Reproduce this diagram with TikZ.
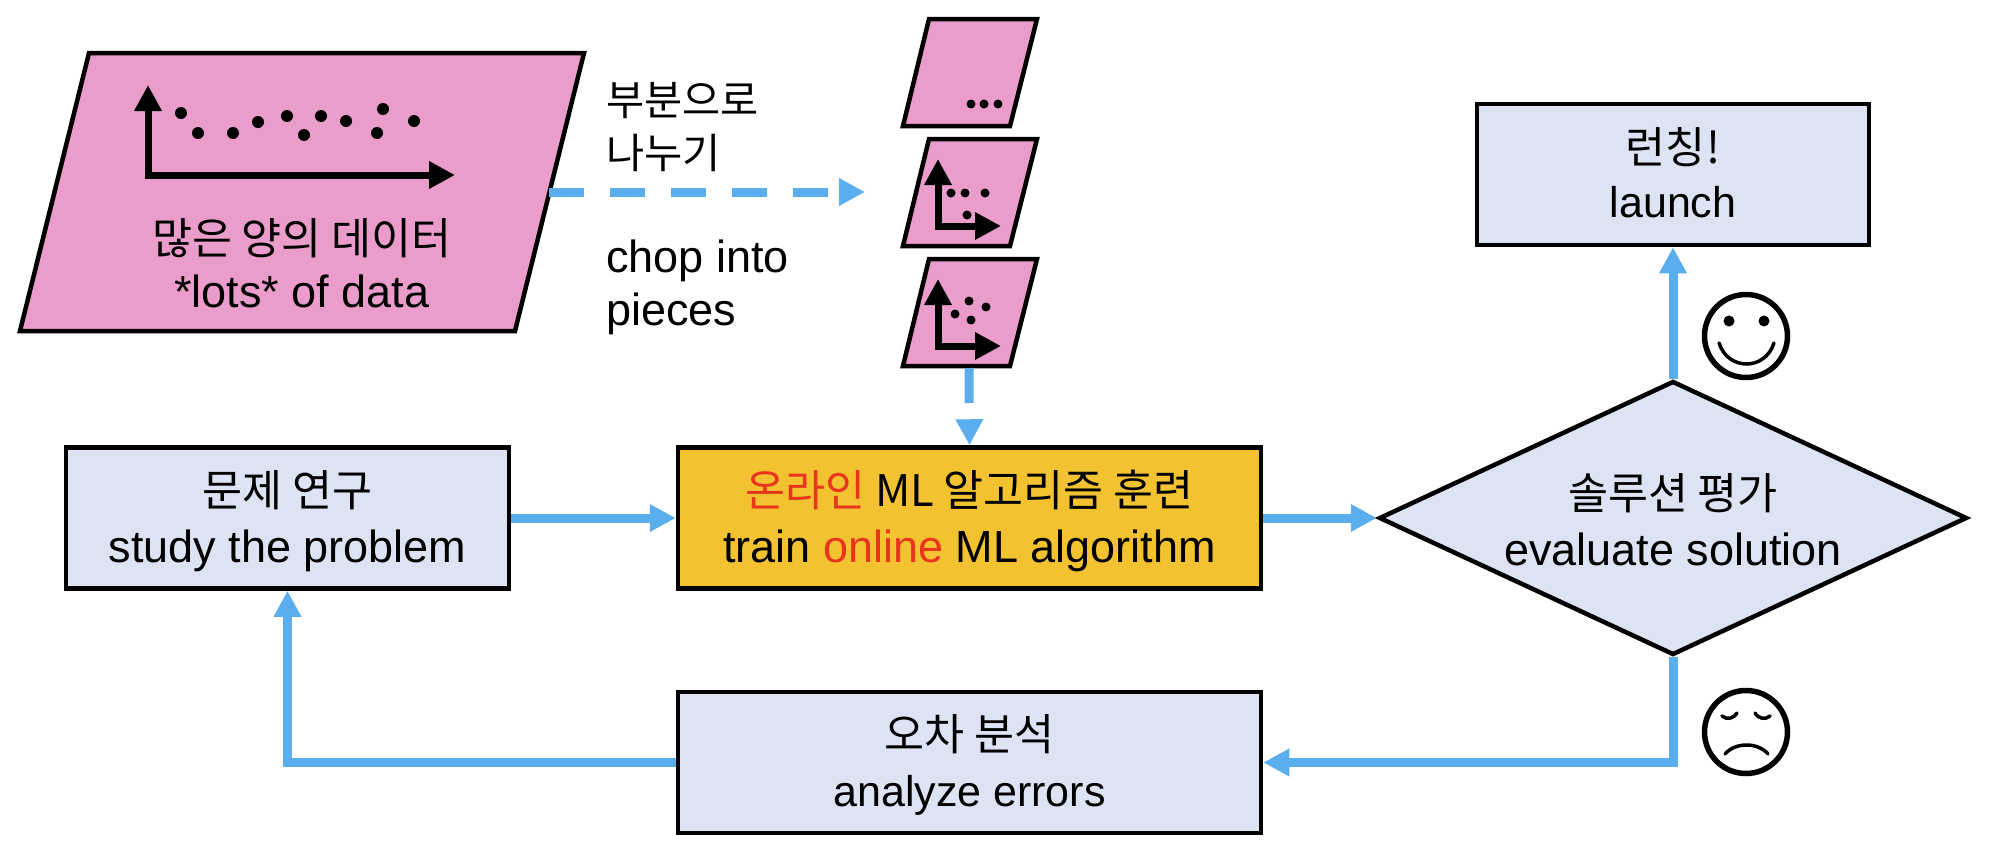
\documentclass[tikz,border=0pt]{standalone}
\usepackage{fontspec}
\setmainfont{Liberation Sans}
\newfontfamily\krfont{Noto Sans CJK KR}
\newcommand{\kr}{\krfont\fontsize{43.5}{56}\selectfont}
\newcommand{\krs}{\krfont\fontsize{41.5}{53}\selectfont}
\usetikzlibrary{arrows.meta,shapes.geometric}
\definecolor{pinkfill}{HTML}{EA9DCB}
\definecolor{bluefill}{HTML}{DDE3F2}
\definecolor{goldfill}{HTML}{F2C230}
\definecolor{flowblue}{HTML}{5BAEEE}
\definecolor{redtext}{HTML}{E8351C}
\tikzset{
  lbl/.style={font=\fontsize{45}{56}\selectfont,align=center,text=black,inner sep=0pt},
  lblleft/.style={font=\fontsize{45}{53}\selectfont,align=left,text=black,inner sep=0pt,anchor=west},
  boxnode/.style={draw=none,lbl},
  boxframe/.style={draw=black,line width=4.5pt,fill=bluefill,minimum width=#1,minimum height=141pt},
  datashape/.style={draw=black,line width=4.5pt,fill=pinkfill,line join=miter},
  flow/.style={draw=flowblue,line width=9pt,-{Triangle[length=26pt,width=26pt]}},
  flowdash/.style={flow,dash pattern=on 35pt off 26pt},
  axis/.style={draw=black,line width=7pt,{Triangle[length=26pt,width=26pt]}-{Triangle[length=26pt,width=26pt]},line join=miter},
  dotbig/.style={fill=black,draw=none},
  face/.style={draw=black,line width=5.5pt},
  facel/.style={draw=black,line width=3.5pt,line cap=round}
}
\begin{document}
\begin{tikzpicture}[x=1pt,y=-1pt]
\useasboundingbox (0,0) rectangle (1990,854);
% big data
\draw[datashape] (89,53) -- (584,53) -- (515,331) -- (20,331) -- cycle;
\coordinate (bigout) at (549,192);
\coordinate (dashend) at (865,192);
\draw[axis] (148,85) -- (148,175) -- (455,175);
\foreach \x/\y in {181/113,198/133,233/133,258/122,287/116,304/135,321/116,346/121,377/133,383/109,414/121}
  \fill[dotbig] (\x,\y) circle (6pt);
\node[lbl,font=\fontsize{45}{53}\selectfont] (bigtext) at (302,263) {{\krfont\fontsize{43.5}{53}\selectfont 많은 양의 데이터}\\*lots* of data};
% chop labels
\node[lblleft] (chopkr) at (606,127) {{\krs 부분으로}\\{\krs 나누기}};
\node[lblleft] (chopen) at (606,287) {chop into\\pieces};
% pieces
\draw[datashape] (929,19) -- (1037,19) -- (1010,126) -- (903,126) -- cycle;
\foreach \x in {971,984,998} \fill[dotbig] (\x,104) circle (4.5pt);
\draw[datashape] (929,139) -- (1037,139) -- (1010,246) -- (903,246) -- cycle;
\draw[axis] (938,159) -- (938,226) -- (1001,226);
\foreach \x/\y in {951/193,965/193,985/193,967/215} \fill[dotbig] (\x,\y) circle (4.5pt);
\draw[datashape] (929,259) -- (1037,259) -- (1010,366) -- (903,366) -- cycle;
\draw[axis] (938,279) -- (938,346) -- (1001,346);
\foreach \x/\y in {955/314,969/301,986/307,971/320} \fill[dotbig] (\x,\y) circle (4.5pt);
\coordinate (pieceout) at (969,368);
% boxes
\node[boxframe=443pt] (study) at (287.5,518) {};
\node[boxframe=583pt,fill=goldfill] (train) at (969.5,518) {};
\node[boxframe=392pt] (launch) at (1673,174.5) {};
\node[boxframe=583pt] (analyze) at (969.5,762.5) {};
\node[diamond,aspect=2.146,draw=black,line width=4.5pt,fill=bluefill,inner sep=0pt,minimum width=588pt,minimum height=274pt] (evaluate) at (1673,518) {};
% box texts
\node[boxnode] (studytext) at (287.5,521) {{\kr 문제 연구}\\study the problem};
\node[boxnode] (traintext) at (969.5,521) {{\kr\color{redtext}온라인}{\kr\ ML 알고리즘 훈련}\\train {\color{redtext}online} ML algorithm};
\node[boxnode,font=\fontsize{43}{54}\selectfont] (launchtext) at (1673,173) {{\krfont\fontsize{43.5}{54}\selectfont 런칭!}\\launch};
\node[boxnode,font=\fontsize{43}{56}\selectfont] (analyzetext) at (969.5,765) {{\kr 오차 분석}\\analyze errors};
\node[boxnode] (evaluatetext) at (1673,520) {{\kr 솔루션 평가}\\evaluate solution};
% connectors
\draw[flowdash] (bigout) -- (dashend);
\draw[flowdash] (pieceout) -- (train.north);
\draw[flow] (study) -- (train);
\draw[flow] (train) -- (evaluate);
\draw[flow] (evaluate) -- (launch);
\draw[flow] (evaluate.south) |- (analyze.east);
\draw[flow] (analyze.west) -| (study.south);
% faces
\draw[face] (1746,336) circle (41.5pt);
\fill (1729,321) circle (5.5pt);
\fill (1764,321) circle (5.5pt);
\draw[facel] (1719,343) .. controls (1728,371) and (1765,371) .. (1774,343);
\draw[face] (1746,732) circle (41.5pt);
\draw[facel] (1722,716) .. controls (1727,720) and (1733,719) .. (1737,713);
\draw[facel] (1755,713) .. controls (1759,719) and (1765,720) .. (1770,716);
\draw[facel] (1725,754) .. controls (1735,742) and (1758,742) .. (1768,754);
\end{tikzpicture}
\end{document}
